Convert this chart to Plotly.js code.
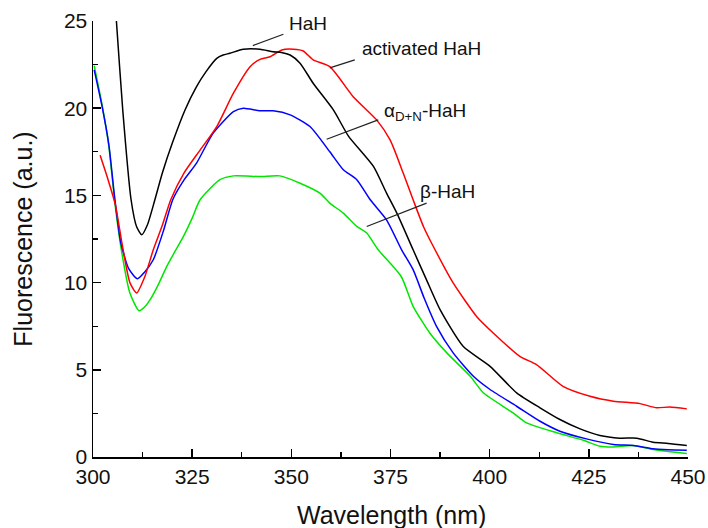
<!DOCTYPE html>
<html>
<head>
<meta charset="utf-8">
<script src="https://cdn.plot.ly/plotly-3.0.1.min.js"></script>
<style>
  html, body { margin: 0; padding: 0; background: #fff; }
  #chart { width: 708px; height: 528px; }
</style>
</head>
<body>
<div id="chart"></div>
<script>
// Fluorescence emission spectra (wavelength in nm, intensity in a.u.)
const hahWl = [305, 305.9, 307.5, 309.6, 311, 312.3, 313.7, 315.6, 317.5, 320, 323.2, 326, 328.5, 331.2, 332.8, 334.5, 337.9, 342.1, 345.4, 347.5, 349.7, 352.2, 355.5, 360.6, 364.4, 370.7, 374, 376.6, 380.7, 384, 387.5, 393.3, 400.1, 406.8, 412.7, 417.7, 422.8, 427.8, 432.8, 437.1, 441.2, 445, 449.7];
const hahF  = [27.9, 25, 19.9, 14.75, 13.2, 12.74, 13.3, 14.75, 16.3, 18.0, 19.9, 21.2, 22.1, 22.86, 23.05, 23.15, 23.38, 23.38, 23.24, 23.2, 23.05, 22.58, 21.43, 19.9, 18.4, 16.66, 15.13, 13.98, 11.88, 10.2, 8.45, 6.35, 5.2, 3.68, 2.82, 2.15, 1.61, 1.23, 1.08, 1.08, 0.85, 0.78, 0.66];

const actWl = [301.8, 303.8, 305.6, 307.5, 309.3, 311, 313, 315.2, 317.5, 319.6, 323, 327, 331.2, 335.4, 339.6, 342.1, 344.6, 347.6, 350.5, 353, 355.5, 359.7, 365.6, 371.5, 374.9, 378.2, 380.7, 383.3, 385.8, 390.8, 396.7, 400.9, 407.6, 411.8, 418.5, 425.3, 431.2, 437.9, 442.1, 445.4, 449.7];
const actF  = [17.3, 15.9, 14.5, 12.0, 10.0, 9.4, 10.3, 11.88, 13.3, 14.75, 16.3, 17.6, 18.95, 20.86, 22.38, 22.8, 22.95, 23.34, 23.38, 23.28, 22.77, 22.38, 20.66, 19.33, 18.18, 16.28, 14.75, 13.22, 12.07, 9.98, 8.06, 7.11, 5.77, 5.3, 4.05, 3.48, 3.2, 3.06, 2.82, 2.87, 2.76];

const alphaWl = [300.3, 302.2, 304, 305.4, 307, 309, 311.2, 313, 315.2, 317.8, 320.1, 323, 326.1, 330.3, 335.4, 337.9, 342.1, 345.4, 349.7, 354.7, 359.7, 363.1, 366.5, 369.9, 374, 377.8, 380.7, 383.5, 386.6, 390.8, 395.9, 400.1, 406.8, 412.7, 417.7, 424.4, 431.2, 436.2, 441.2, 445, 449.7];
const alphaF  = [22.2, 20.2, 17.9, 15.0, 12.3, 10.8, 10.22, 10.6, 11.31, 13.0, 14.75, 15.9, 16.85, 18.57, 19.8, 20.0, 19.85, 19.85, 19.62, 18.95, 17.5, 16.47, 15.9, 14.75, 13.6, 11.88, 10.74, 9.1, 7.49, 5.97, 4.63, 3.87, 2.91, 2.05, 1.48, 1.04, 0.72, 0.66, 0.47, 0.42, 0.39];

const betaWl = [300.3, 302.2, 304, 305.5, 307.2, 309.3, 311.6, 313, 314.4, 316.5, 318.6, 320.7, 322.8, 325, 327, 332, 335.4, 342.1, 347.1, 352.2, 357.2, 359.7, 363.1, 366.5, 369, 371.9, 377.7, 380.7, 384.9, 389.2, 395.1, 398.4, 405.9, 409.3, 416.9, 423.6, 427.8, 431.2, 436.2, 441.2, 445, 449.7];
const betaF  = [22.44, 20.3, 17.8, 14.6, 11.8, 9.4, 8.39, 8.6, 9.02, 9.9, 10.93, 11.8, 12.65, 13.7, 14.75, 15.9, 16.12, 16.08, 16.12, 15.7, 15.13, 14.56, 13.98, 13.22, 12.84, 11.88, 10.35, 8.64, 7.11, 5.97, 4.63, 3.68, 2.53, 1.96, 1.39, 0.96, 0.62, 0.58, 0.66, 0.43, 0.32, 0.2];

// labelled tick positions (evenly spaced)
const xTicks = [300, 325, 350, 375, 400, 425, 450];
const yTicks = [0, 5, 10, 15, 20, 25];

const FONT = '"Liberation Sans", Arial, sans-serif';

function trace(x, y, color) {
  return { x: x, y: y, type: 'scatter', mode: 'lines',
           line: { color: color, width: 1.5, shape: 'spline', smoothing: 0.6 },
           hoverinfo: 'skip', showlegend: false };
}

const data = [
  trace(betaWl, betaF, '#00e600'),
  trace(alphaWl, alphaF, '#0000ff'),
  trace(actWl, actF, '#ff0000'),
  trace(hahWl, hahF, '#000000')
];

// leader lines from each label to its curve
function leader(x0, y0, x1, y1) {
  return { type: 'line', xref: 'x', yref: 'y', x0: x0, y0: y0, x1: x1, y1: y1,
           line: { color: '#222', width: 1.2 } };
}

function label(text, x, y) {
  return { text: text, xref: 'x', yref: 'y', x: x, y: y, xanchor: 'left', yanchor: 'middle',
           showarrow: false, font: { family: FONT, size: 19, color: '#111' } };
}

function axis(ticks) {
  const step = ticks[1] - ticks[0];
  return {
    range: [ticks[0], ticks[ticks.length - 1]],
    tickmode: 'linear', tick0: ticks[0], dtick: step,
    automargin: false,
    showgrid: false, zeroline: false, showline: true, linecolor: '#000', linewidth: 1.5,
    ticks: 'inside', ticklen: 8, tickwidth: 1.5, tickcolor: '#000',
    tickfont: { family: FONT, size: 21, color: '#111' },
    minor: { tick0: ticks[0], dtick: step / 2, ticks: 'inside', ticklen: 5, tickwidth: 1.2, tickcolor: '#000' }
  };
}

const yAxis = axis(yTicks);
yAxis.title = { text: 'Fluorescence (a.u.)', standoff: 24, font: { family: FONT, size: 25, color: '#111' } };

const layout = {
  width: 708, height: 528,
  margin: { l: 93, r: 20, t: 21, b: 70.5, pad: 0 },
  paper_bgcolor: '#fff', plot_bgcolor: '#fff',
  font: { family: FONT },
  xaxis: axis(xTicks),
  yaxis: yAxis,
  shapes: [
    leader(340.3, 23.59, 348.0, 24.24),
    leader(359.7, 22.31, 366.0, 22.77),
    leader(358.9, 18.22, 371.9, 19.33),
    leader(369.0, 13.22, 384.1, 14.56)
  ],
  annotations: [
    label('HaH', 348.9, 24.86),
    label('activated HaH', 367.3, 23.45),
    label('α<sub>D+N</sub>-HaH', 372.8, 19.8),
    label('β-HaH', 382.0, 15.22),
    { text: 'Wavelength (nm)', xref: 'paper', yref: 'paper', x: 0.5025, y: -0.134,
      xanchor: 'center', yanchor: 'middle', showarrow: false,
      font: { family: FONT, size: 25, color: '#111' } }
  ]
};

Plotly.newPlot('chart', data, layout, { displayModeBar: false, staticPlot: true });
</script>
</body>
</html>
